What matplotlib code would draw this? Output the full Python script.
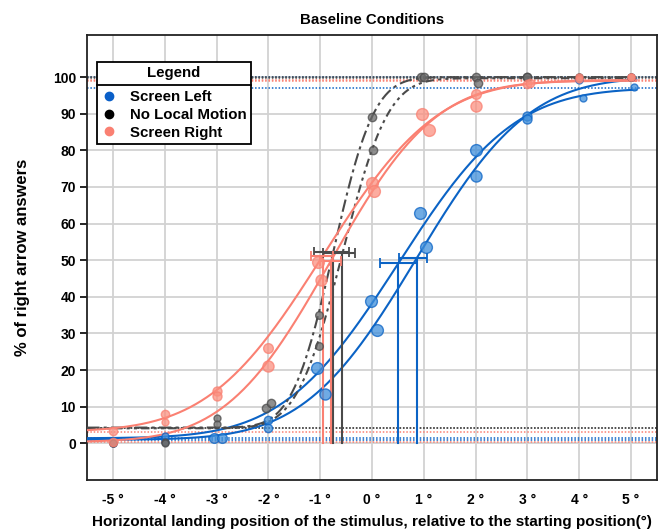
import math
import numpy as np
import matplotlib
matplotlib.use("Agg")
import matplotlib.pyplot as plt
from matplotlib.lines import Line2D

plt.rcParams['font.family'] = ['Liberation Sans', 'DejaVu Sans']
plt.rcParams['font.weight'] = 'bold'

# ---------------- data ----------------
conditions = ["Screen Left", "No Local Motion", "Screen Right"]
xticks = [-5, -4, -3, -2, -1, 0, 1, 2, 3, 4, 5]
xtick_labels = ["-5 °", "-4 °", "-3 °", "-2 °", "-1 °", "0 °", "1 °", "2 °", "3 °", "4 °", "5 °"]
yticks = [0, 10, 20, 30, 40, 50, 60, 70, 80, 90, 100]

# Screen Left (blue) - session A / B
left_a_x = [-5, -4, -3.05, -2, -1.07, -0.01, 0.92, 2.0, 3.0, 4.07, 5.05]
left_a_y = [0, 1.9, 1.4, 6.5, 20.7, 39, 63, 80, 89.5, 94.3, 97.2]
left_a_s = [5, 5, 7, 6, 8.5, 8.5, 8.5, 8.5, 6.5, 5, 5]
left_b_x = [-5, -4, -2.9, -2, -0.9, 0.09, 1.05, 2.0, 3.0, 4.0, 5.0]
left_b_y = [0, 0.3, 1.4, 4.3, 13.4, 31, 53.5, 73, 88.5, 99.3, 100]
left_b_s = [5, 5, 7, 6, 8, 8.5, 8.5, 8, 6.5, 5, 5]

# No Local Motion (gray)
nlm_a_x = [-5, -4, -3, -2.05, -1.03, 0.0, 0.95, 2.0, 3.0, 4.0, 5.0]
nlm_a_y = [0, 0.3, 6.8, 9.7, 35, 89, 100, 100, 100, 100, 100]
nlm_b_x = [-5, -4, -3, -1.95, -1.03, 0.02, 1.0, 2.05, 3.0, 4.0, 5.0]
nlm_b_y = [0, 0, 5.2, 10.9, 26.7, 80, 100, 98.5, 100, 100, 100]
nlm_s = [5, 5, 5, 6, 5.5, 6, 6, 6, 6, 5, 5]

# Screen Right (salmon)
right_a_x = [-5, -4, -3, -2, -1.05, 0.0, 0.97, 2.0, 3.0, 4.0, 5.0]
right_a_y = [3.3, 7.9, 14.2, 26, 49.6, 71, 90, 95.3, 98, 100, 100]
right_a_s = [6, 6, 6.5, 7, 8.5, 8.5, 8.5, 7, 6, 5, 5]
right_b_x = [-5, -4, -3, -2, -0.98, 0.03, 1.1, 2.0, 3.05, 4.0, 5.0]
right_b_y = [0.3, 5.7, 12.8, 21, 44.5, 69, 85.5, 92, 98.5, 99.5, 100]
right_b_s = [6, 5, 6.5, 8, 8, 8.5, 8.5, 8, 6, 5, 5]

# fitted psychometric parameters: threshold, slope(sigma), guess, lapse
left_a_fit = (0.51, 1.75, 0.014, 0.030)
left_b_fit = (0.86, 1.70, 0.010, 0.000)
nlm_a_fit = (-0.75, 0.62, 0.043, 0.000)
nlm_b_fit = (-0.57, 0.69, 0.041, 0.003)
right_a_fit = (-0.95, 1.73, 0.032, 0.008)
right_b_fit = (-0.80, 1.59, 0.004, 0.010)

# confidence intervals of thresholds
left_a_ci = (0.16, 0.86)
left_b_ci = (0.53, 1.07)
nlm_a_ci = (-1.11, -0.45)
nlm_b_ci = (-0.95, -0.32)
right_a_ci = (-1.17, -0.75)
right_b_ci = (-1.00, -0.59)

# ---------------- drawing ----------------
BLUE = "#0b63c5"
BLUE_FACE = "#3f8fdb"
GRAY = "#4a4a4a"
GRAY_FACE = "#6a6a6a"
SALMON = "#fa8072"
SALMON_FACE = "#fb9080"

fig = plt.figure(figsize=(6.66, 5.31), dpi=100)
ax = fig.add_axes([87 / 666, 51 / 531, 570 / 666, 445 / 531])
ax.set_xlim(-5.5, 5.5)
ax.set_ylim(-10, 111.5)


def psy(x, fit):
    mu, sig, g, l = fit
    phi = np.array([0.5 * (1 + math.erf((v - mu) / (sig * math.sqrt(2)))) for v in x])
    return 100 * (g + (1 - g - l) * phi)


xs = np.linspace(-5.5, 5.1, 400)

series = [
    (left_a_x, left_a_y, left_a_s, left_a_fit, left_a_ci, BLUE, BLUE_FACE, '-'),
    (left_b_x, left_b_y, left_b_s, left_b_fit, left_b_ci, BLUE, BLUE_FACE, '-'),
    (nlm_a_x, nlm_a_y, nlm_s, nlm_a_fit, nlm_a_ci, GRAY, GRAY_FACE, (0, (6, 2, 1.5, 2))),
    (nlm_b_x, nlm_b_y, nlm_s, nlm_b_fit, nlm_b_ci, GRAY, GRAY_FACE, (0, (4, 2, 1.5, 2, 1.5, 2))),
    (right_a_x, right_a_y, right_a_s, right_a_fit, right_a_ci, SALMON, SALMON_FACE, '-'),
    (right_b_x, right_b_y, right_b_s, right_b_fit, right_b_ci, SALMON, SALMON_FACE, '-'),
]

for (x, y, s, fit, ci, col, face, ls) in series:
    mu, sig, g, l = fit
    ax.axhline(100 * g, color=col, ls=(0, (1, 1.2)), lw=1.1, zorder=2)
    ax.axhline(100 * (1 - l), color=col, ls=(0, (1, 1.2)), lw=1.1, zorder=2)

for (x, y, s, fit, ci, col, face, ls) in series:
    mu, sig, g, l = fit
    ax.plot(xs, psy(xs, fit), color=col, lw=1.5, ls=ls, zorder=3)
    mid = psy([mu], fit)[0]
    ax.plot([mu, mu], [0, mid], color=col, lw=1.5, zorder=3)
    ax.errorbar([mu], [mid], xerr=[[mu - ci[0]], [ci[1] - mu]], fmt='none',
                ecolor=col, elinewidth=1.5, capsize=3.5, capthick=1.3, zorder=4)
    for xi, yi, si in zip(x, y, s):
        ax.plot([xi], [yi], 'o', ms=si, mfc=face, mec=col, mew=1.0, alpha=0.75, zorder=5)

ax.set_xticks(xticks)
ax.set_xticklabels(xtick_labels)
ax.set_yticks(yticks)
ax.grid(True, color="#d2d2d2", lw=1.3, zorder=0)
ax.set_axisbelow(True)
ax.tick_params(axis='x', length=0, pad=9, labelsize=10)
ax.tick_params(axis='y', length=5, width=1.2, direction='out', pad=3, labelsize=10)
for lab in ax.get_xticklabels() + ax.get_yticklabels():
    lab.set_fontweight('bold')
for sp in ax.spines.values():
    sp.set_color('#222222')
    sp.set_linewidth(1.3)

ax.set_title("Baseline Conditions", fontsize=10.8, fontweight='bold', pad=8)
ax.set_xlabel("Horizontal landing position of the stimulus, relative to the starting position(°)",
              fontsize=11, fontweight='bold', labelpad=6)
ax.set_ylabel("% of right arrow answers", fontsize=12, fontweight='bold', labelpad=16)

legend_colors = ["#0a5fc8", "#000000", SALMON]
handles = [Line2D([], [], ls='none', marker='o', ms=6, mfc=c, mec=c) for c in legend_colors]
leg = ax.legend(handles, conditions, title="Legend", loc='upper left',
                bbox_to_anchor=(10 / 570, (480 - 62) / 445), borderaxespad=0,
                fancybox=False, framealpha=1, edgecolor='black',
                prop={'size': 10.8, 'weight': 'bold'}, title_fontproperties={'size': 10.8, 'weight': 'bold'},
                handlelength=1.0, handletextpad=0.9, labelspacing=0.25, borderpad=0.3)
leg.get_frame().set_linewidth(1.3)
leg.set_zorder(10)
leg._legend_box.sep = 7

fig.canvas.draw()
lbb = leg.get_window_extent()
tbb = leg.get_title().get_window_extent()
ysep = tbb.y0 - 4
inv = fig.transFigure.inverted()
(x0, y0) = inv.transform((lbb.x0, ysep))
(x1, _) = inv.transform((lbb.x1, ysep))
fig.add_artist(Line2D([x0, x1], [y0, y0], color='black', lw=1.3, zorder=11))

fig.savefig("out.png", dpi=100)
